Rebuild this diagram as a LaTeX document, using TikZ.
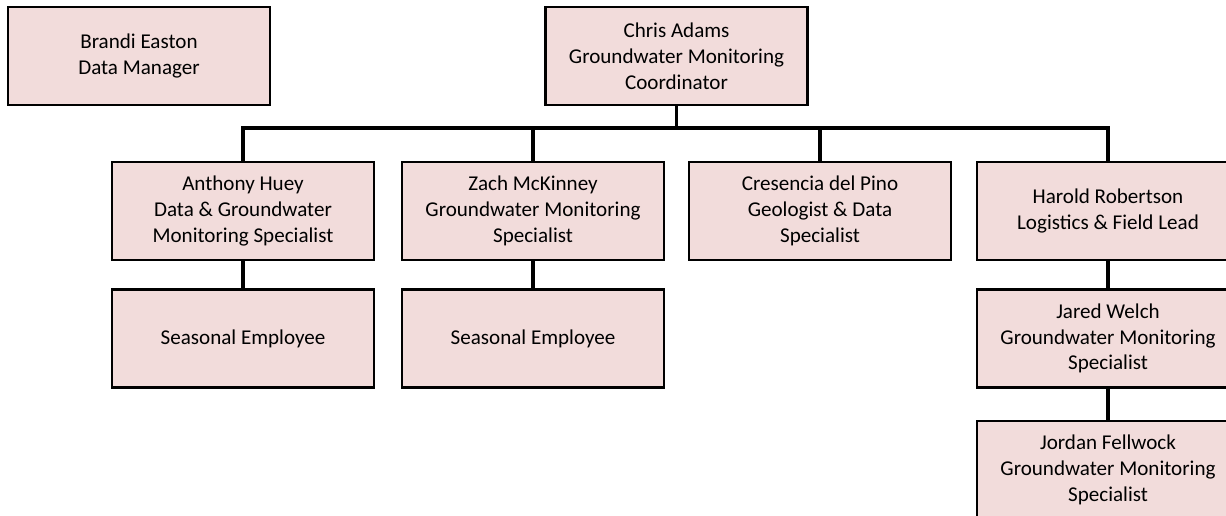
\documentclass[tikz,border=0pt]{standalone}
\usepackage{fontspec}
\setmainfont{Carlito}
\usepackage{tikz}
\usetikzlibrary{positioning}
\definecolor{colBox}{RGB}{242,220,219}

\begin{document}
\begin{tikzpicture}[
  x=0.02cm, y=-0.02cm,
  node distance=0.54cm,
  box/.style={rectangle, draw, line width=1.4pt, fill=colBox, minimum width=5.24cm,
              minimum height=1.96cm, align=center, inner sep=2pt,
              font=\fontsize{12}{14.7}\selectfont},
  link/.style={line width=1.9pt},
]
\useasboundingbox (0,0) rectangle (1226,515);

\node[box] (brandi) at (139,56) {Brandi Easton\\Data Manager};
\node[box] (chris) at (676.5,56) {Chris Adams\\Groundwater Monitoring\\Coordinator};

\node[box] (anthony) at (243,211) {Anthony Huey\\Data \& Groundwater\\Monitoring Specialist};
\node[box] (zach) at (533,211) {Zach McKinney\\Groundwater Monitoring\\Specialist};
\node[box] (cresencia) at (820,211) {Cresencia del Pino\\Geologist \& Data\\Specialist};
\node[box] (harold) at (1108,211) {Harold Robertson\\Logistics \& Field Lead};

\node[box, below=of anthony] (seasonalA) {Seasonal Employee};
\node[box, below=of zach] (seasonalB) {Seasonal Employee};
\node[box, below=of harold] (jared) {Jared Welch\\Groundwater Monitoring\\Specialist};
\node[box, below=0.62cm of jared] (jordan) {Jordan Fellwock\\Groundwater Monitoring\\Specialist};

% bus line under the coordinator
\coordinate (bus) at (676.5,128);
\draw[link] (chris) -- (bus);
\draw[link] (anthony) -- (anthony |- bus) -- (harold |- bus) -- (harold);
\draw[link] (zach) -- (zach |- bus);
\draw[link] (cresencia) -- (cresencia |- bus);

\draw[link] (anthony) -- (seasonalA);
\draw[link] (zach) -- (seasonalB);
\draw[link] (harold) -- (jared);
\draw[link] (jared) -- (jordan);
\end{tikzpicture}
\end{document}
